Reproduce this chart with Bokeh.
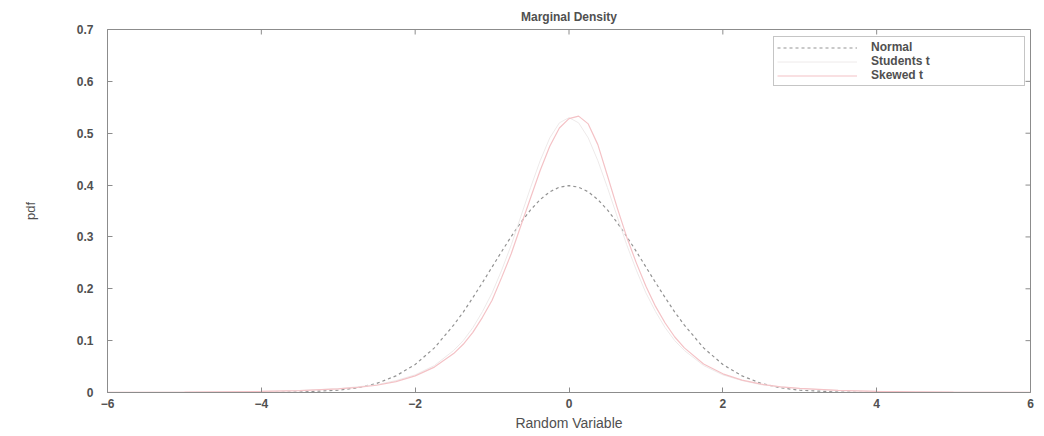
from bokeh.plotting import figure
from bokeh.models import FixedTicker, Range1d, Legend, LegendItem
from bokeh.embed import file_html
from bokeh.resources import INLINE

# Evaluation grid for the three marginal densities
x_vals = [-6, -5.5, -5, -4.5, -4, -3.5, -3, -2.75, -2.5, -2.25, -2, -1.75,
          -1.5, -1.375, -1.25, -1.125, -1, -0.875, -0.75, -0.625, -0.5, -0.375,
          -0.25, -0.125, 0, 0.125, 0.25, 0.375, 0.5, 0.625, 0.75, 0.875, 1,
          1.125, 1.25, 1.375, 1.5, 1.75, 2, 2.25, 2.5, 2.75, 3, 3.5, 4, 4.5,
          5, 5.5, 6]

normal_pdf = [0.0, 0.0, 0.0, 0.0, 0.0001, 0.0009, 0.0044, 0.0091, 0.0175, 0.032,
              0.054, 0.086, 0.130, 0.155, 0.183, 0.212, 0.242, 0.272, 0.301,
              0.328, 0.352, 0.372, 0.387, 0.396, 0.399, 0.396, 0.387, 0.372,
              0.352, 0.328, 0.301, 0.272, 0.242, 0.212, 0.183, 0.155, 0.130,
              0.086, 0.054, 0.032, 0.0175, 0.0091, 0.0044, 0.0009, 0.0001, 0.0,
              0.0, 0.0, 0.0]

students_pdf = [0.0003, 0.0005, 0.0008, 0.0013, 0.0022, 0.0039, 0.0075, 0.011,
                0.015, 0.023, 0.034, 0.052, 0.081, 0.100, 0.125, 0.156, 0.192,
                0.236, 0.285, 0.340, 0.395, 0.447, 0.491, 0.520, 0.530, 0.520,
                0.491, 0.447, 0.395, 0.340, 0.285, 0.236, 0.192, 0.156, 0.125,
                0.100, 0.081, 0.052, 0.034, 0.023, 0.015, 0.011, 0.0075, 0.0039,
                0.0022, 0.0013, 0.0008, 0.0005, 0.0003]

skewed_pdf = [0.0003, 0.0004, 0.0007, 0.0012, 0.0021, 0.0037, 0.007, 0.010,
              0.014, 0.021, 0.032, 0.049, 0.075, 0.093, 0.116, 0.145, 0.178,
              0.222, 0.268, 0.322, 0.375, 0.428, 0.475, 0.510, 0.528, 0.533,
              0.518, 0.478, 0.418, 0.357, 0.300, 0.250, 0.205, 0.166, 0.134,
              0.107, 0.086, 0.055, 0.036, 0.024, 0.016, 0.011, 0.008, 0.004,
              0.0023, 0.0014, 0.0008, 0.0005, 0.0003]

x_ticks = [-6, -4, -2, 0, 2, 4, 6]
y_ticks = [0, 0.1, 0.2, 0.3, 0.4, 0.5, 0.6, 0.7]

X_MIN, X_MAX = -6, 6
Y_MIN, Y_MAX = 0, 0.7

FONT = "Liberation Sans"
TEXT = "#505050"
FRAME = "#8c8c8c"
FRAME_W, FRAME_H = 923, 363
TICK_PX = 5

p = figure(width=1044, height=436, output_backend="svg", toolbar_location=None,
           x_range=Range1d(X_MIN, X_MAX), y_range=Range1d(Y_MIN, Y_MAX),
           min_border_left=107, min_border_right=14,
           min_border_top=29, min_border_bottom=44,
           title="Marginal Density")

p.background_fill_color = "white"
p.border_fill_color = "white"
p.outline_line_color = FRAME
p.xgrid.visible = False
p.ygrid.visible = False

p.title.align = "center"
p.title.text_font = FONT
p.title.text_font_size = "12px"
p.title.text_font_style = "bold"
p.title.text_color = TEXT
p.title.offset = 0
p.title.standoff = 12

for ax in (p.xaxis[0], p.yaxis[0]):
    ax.axis_line_color = FRAME
    ax.major_tick_line_color = FRAME
    ax.major_tick_in = TICK_PX
    ax.major_tick_out = 0
    ax.minor_tick_line_color = None
    ax.major_label_text_font = FONT
    ax.major_label_text_font_size = "12px"
    ax.major_label_text_font_style = "bold"
    ax.major_label_text_color = TEXT
    ax.axis_label_text_font = FONT
    ax.axis_label_text_color = TEXT
    ax.axis_label_text_font_style = "normal"

p.xaxis.ticker = FixedTicker(ticks=x_ticks)
p.yaxis.ticker = FixedTicker(ticks=y_ticks)
p.xaxis.major_label_standoff = 6
p.yaxis.major_label_standoff = 14
p.xaxis.axis_label = "Random Variable"
p.xaxis.axis_label_text_font_size = "14px"
p.xaxis.axis_label_standoff = 4
p.yaxis.axis_label = "pdf"
p.yaxis.axis_label_text_font_size = "13px"
p.yaxis.axis_label_standoff = 36

# Mirrored inward ticks along the top and right edges of the frame
dy = (Y_MAX - Y_MIN) * TICK_PX / FRAME_H
dx = (X_MAX - X_MIN) * TICK_PX / FRAME_W
p.segment(x0=x_ticks, y0=[Y_MAX] * len(x_ticks),
          x1=x_ticks, y1=[Y_MAX - dy] * len(x_ticks),
          line_color=FRAME, line_width=1)
p.segment(x0=[X_MAX] * len(y_ticks), y0=y_ticks,
          x1=[X_MAX - dx] * len(y_ticks), y1=y_ticks,
          line_color=FRAME, line_width=1)

r_normal = p.line(x_vals, normal_pdf, line_color="#939393", line_width=1.2,
                  line_dash="3 3")
r_students = p.line(x_vals, students_pdf, line_color="#eeeaea", line_width=1.0)
r_skewed = p.line(x_vals, skewed_pdf, line_color="#f4c2c6", line_width=1.2)

legend = Legend(items=[LegendItem(label="Normal", renderers=[r_normal]),
                       LegendItem(label="Students t", renderers=[r_students]),
                       LegendItem(label="Skewed t", renderers=[r_skewed])],
                location=(666, 306))
legend.glyph_width = 80
legend.glyph_height = 13
legend.label_height = 13
legend.label_width = 150
legend.label_standoff = 14
legend.padding = 3
legend.spacing = 0
legend.margin = 0
legend.label_text_font = FONT
legend.label_text_font_size = "12px"
legend.label_text_font_style = "bold"
legend.label_text_color = TEXT
legend.border_line_color = FRAME
legend.border_line_width = 1
legend.background_fill_alpha = 1.0
p.add_layout(legend, "center")

open("out.html", "w").write(file_html(p, INLINE))
